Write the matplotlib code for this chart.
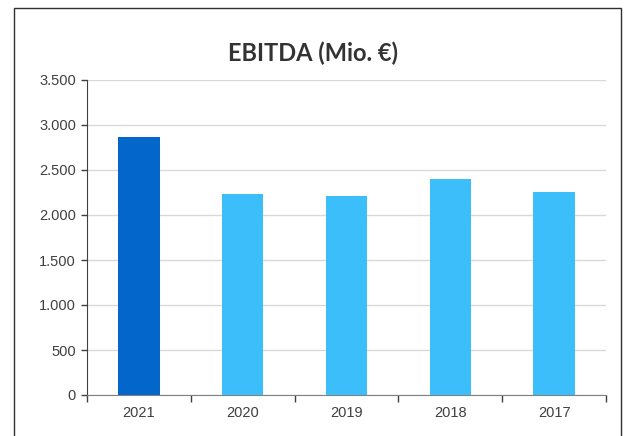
import matplotlib
matplotlib.use('Agg')
import matplotlib.pyplot as plt
from matplotlib.patches import Rectangle
from matplotlib.ticker import FuncFormatter
import numpy as np

# data
years = ['2021', '2020', '2019', '2018', '2017']
ebitda = [2870, 2233, 2211, 2396, 2252]
bar_colors = ['#0366CB', '#3CBEFA', '#3CBEFA', '#3CBEFA', '#3CBEFA']

plt.rcParams['font.family'] = ['Liberation Sans', 'DejaVu Sans']

fig = plt.figure(figsize=(6.29, 4.36), dpi=100)
ax = fig.add_axes([87/629, 1-395/436, (606-87)/629, (395-80)/436])

x = np.arange(len(years))
ax.bar(x, ebitda, width=0.4, color=bar_colors, zorder=3)

ax.set_xlim(-0.5, len(years) - 0.5)
ax.set_ylim(0, 3500)
ax.set_yticks(np.arange(0, 3501, 500))
ax.yaxis.set_major_formatter(FuncFormatter(lambda v, p: f'{int(v):,}'.replace(',', '.')))
ax.grid(axis='y', color='#d9d9d9', lw=1, zorder=0)

ax.set_xticks(x)
ax.set_xticklabels(years)
ax.set_xticks(np.arange(-0.5, len(years)), minor=True)
ax.tick_params(axis='x', which='major', length=0, pad=8)
ax.tick_params(axis='x', which='minor', length=5, color='#404040', width=1)
ax.tick_params(axis='y', length=4, color='#404040', width=1, pad=4)
ax.tick_params(labelsize=10.5, labelcolor='#404040')

for s in ['top', 'right']:
    ax.spines[s].set_visible(False)
ax.spines['left'].set_color('#404040')
ax.spines['bottom'].set_color('#808080')

fig.text(313/629, 1-53/436, 'EBITDA (Mio. €)', ha='center', va='center',
         fontsize=17, fontweight='bold', fontfamily='Lato', color='#333333')

# outer chart border
fig.patches.append(Rectangle((14/629, -0.1), (621-14)/629, 1.1 - 8/436,
                             transform=fig.transFigure, fill=False,
                             edgecolor='#303030', lw=1))

plt.savefig('out.png', dpi=100)
